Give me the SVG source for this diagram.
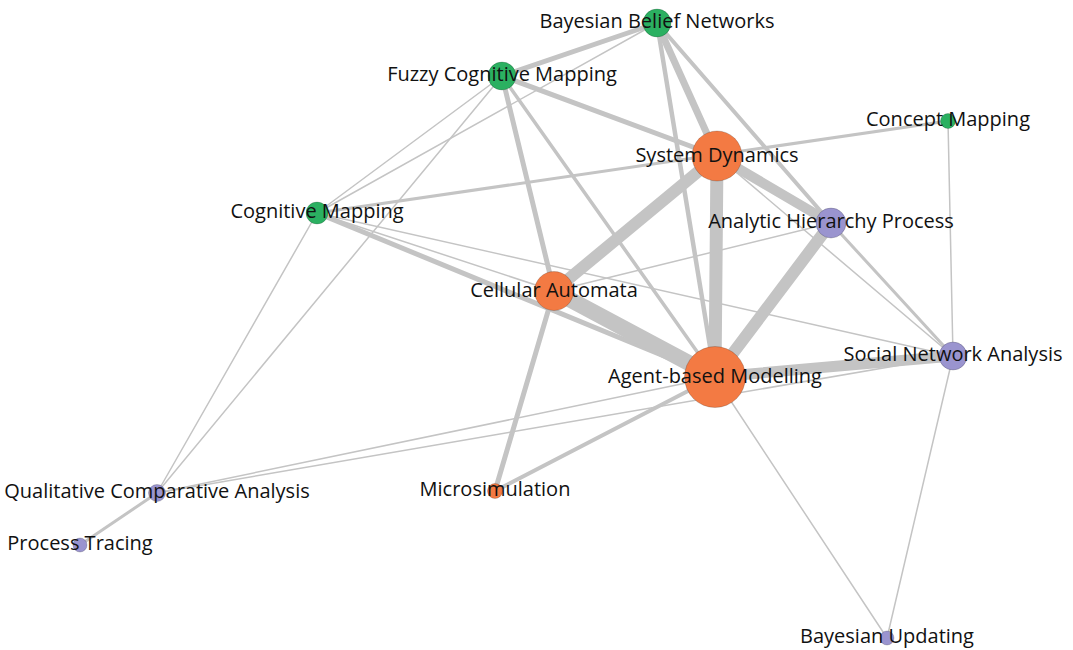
<svg xmlns="http://www.w3.org/2000/svg" width="1073" height="650" viewBox="0 0 1073 650">
<style>
.e{stroke:#c4c4c4;stroke-linecap:round;fill:none}
.g{fill:#2bb061}
.o{fill:#f37a43}
.p{fill:#9a94cf}
.n circle{stroke:#000;stroke-opacity:0.3;stroke-width:0.6}
.t{font-family:"Open Sans","Noto Sans",sans-serif;font-size:20px;fill:#111;text-anchor:middle}
</style>
<rect width="1073" height="650" fill="#fff"/>
<g id="connectors">
<line class="e" x1="657" y1="23" x2="317" y2="213" stroke-width="1.5"/>
<line class="e" x1="502" y1="76" x2="317" y2="213" stroke-width="1.5"/>
<line class="e" x1="502" y1="76" x2="157" y2="493" stroke-width="1.5"/>
<line class="e" x1="317" y1="213" x2="157" y2="493" stroke-width="1.5"/>
<line class="e" x1="317" y1="213" x2="953" y2="356" stroke-width="1.5"/>
<line class="e" x1="317" y1="213" x2="554" y2="291" stroke-width="1.5"/>
<line class="e" x1="554" y1="291" x2="831" y2="223" stroke-width="1.5"/>
<line class="e" x1="717" y1="156" x2="953" y2="356" stroke-width="1.5"/>
<line class="e" x1="948" y1="121" x2="953" y2="356" stroke-width="1.5"/>
<line class="e" x1="157" y1="493" x2="715" y2="377" stroke-width="1.5"/>
<line class="e" x1="157" y1="493" x2="953" y2="356" stroke-width="1.5"/>
<line class="e" x1="715" y1="377" x2="887" y2="638" stroke-width="1.5"/>
<line class="e" x1="953" y1="356" x2="887" y2="638" stroke-width="1.5"/>
<line class="e" x1="157" y1="493" x2="80" y2="545" stroke-width="3"/>
<line class="e" x1="317" y1="213" x2="948" y2="121" stroke-width="3"/>
<line class="e" x1="831" y1="223" x2="953" y2="356" stroke-width="3"/>
<line class="e" x1="502" y1="76" x2="715" y2="377" stroke-width="3.5"/>
<line class="e" x1="495" y1="491" x2="715" y2="377" stroke-width="4"/>
<line class="e" x1="657" y1="23" x2="831" y2="223" stroke-width="4"/>
<line class="e" x1="657" y1="23" x2="715" y2="377" stroke-width="4.5"/>
<line class="e" x1="317" y1="213" x2="715" y2="377" stroke-width="5"/>
<line class="e" x1="554" y1="291" x2="495" y2="491" stroke-width="5"/>
<line class="e" x1="502" y1="76" x2="554" y2="291" stroke-width="5"/>
<line class="e" x1="502" y1="76" x2="717" y2="156" stroke-width="5"/>
<line class="e" x1="657" y1="23" x2="502" y2="76" stroke-width="5"/>
<line class="e" x1="657" y1="23" x2="717" y2="156" stroke-width="7"/>
<line class="e" x1="715" y1="377" x2="953" y2="356" stroke-width="11"/>
<line class="e" x1="717" y1="156" x2="831" y2="223" stroke-width="10"/>
<line class="e" x1="831" y1="223" x2="715" y2="377" stroke-width="12"/>
<line class="e" x1="554" y1="291" x2="717" y2="156" stroke-width="12"/>
<line class="e" x1="717" y1="156" x2="715" y2="377" stroke-width="13"/>
<line class="e" x1="554" y1="291" x2="715" y2="377" stroke-width="16"/>
</g>
<g id="node-bbn" class="n"><circle class="g" cx="657" cy="23" r="14"/></g>
<g id="node-fcm" class="n"><circle class="g" cx="502" cy="76" r="14"/></g>
<g id="node-concept" class="n"><circle class="g" cx="948" cy="121" r="7.5"/></g>
<g id="node-sd" class="n"><circle class="o" cx="717" cy="156" r="25"/></g>
<g id="node-cogmap" class="n"><circle class="g" cx="317" cy="213" r="11"/></g>
<g id="node-ahp" class="n"><circle class="p" cx="831" cy="223" r="15"/></g>
<g id="node-ca" class="n"><circle class="o" cx="554" cy="291" r="19.5"/></g>
<g id="node-sna" class="n"><circle class="p" cx="953" cy="356" r="14"/></g>
<g id="node-abm" class="n"><circle class="o" cx="715" cy="377" r="30.5"/></g>
<g id="node-qca" class="n"><circle class="p" cx="157" cy="493" r="8.5"/></g>
<g id="node-micro" class="n"><circle class="o" cx="495" cy="491" r="7.5"/></g>
<g id="node-pt" class="n"><circle class="p" cx="80" cy="545" r="7"/></g>
<g id="node-bu" class="n"><circle class="p" cx="887" cy="638" r="7"/></g>
<g id="labels">
<text class="t" x="657" y="28">Bayesian Belief Networks</text>
<text class="t" x="502" y="81">Fuzzy Cognitive Mapping</text>
<text class="t" x="948" y="126">Concept Mapping</text>
<text class="t" x="717" y="162">System Dynamics</text>
<text class="t" x="317" y="218">Cognitive Mapping</text>
<text class="t" x="831" y="228">Analytic Hierarchy Process</text>
<text class="t" x="554" y="297">Cellular Automata</text>
<text class="t" x="953" y="361">Social Network Analysis</text>
<text class="t" x="715" y="383">Agent-based Modelling</text>
<text class="t" x="157" y="498">Qualitative Comparative Analysis</text>
<text class="t" x="495" y="496">Microsimulation</text>
<text class="t" x="80" y="550">Process Tracing</text>
<text class="t" x="887" y="643">Bayesian Updating</text>
</g>
</svg>
